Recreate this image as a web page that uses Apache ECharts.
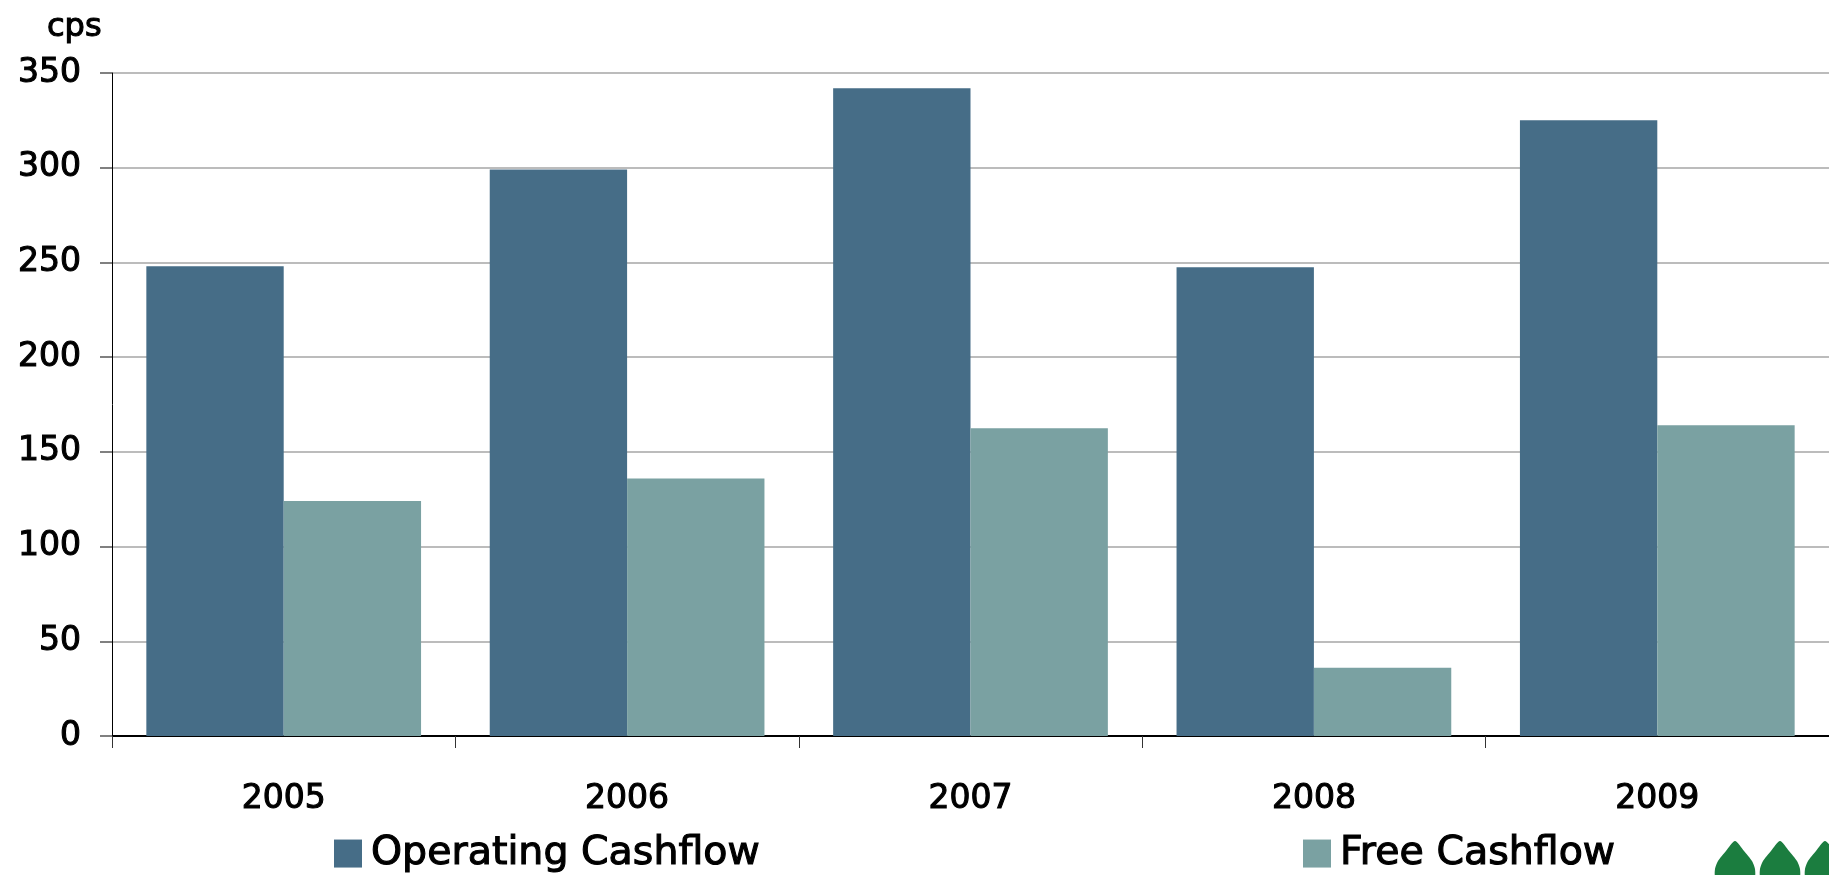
<!DOCTYPE html>
<html>
<head>
<meta charset="utf-8">
<script src="https://cdn.jsdelivr.net/npm/echarts@6/dist/echarts.min.js"></script>
<style>
  html, body { margin: 0; padding: 0; background: #ffffff; }
  #chart { width: 1829px; height: 875px; }
</style>
</head>
<body>
<div id="chart"></div>
<script>
// Cashflow per share, cents
const years = ['2005', '2006', '2007', '2008', '2009'];
const operatingCashflow = [248, 299, 342, 247.5, 325];
const freeCashflow = [124, 136, 162.5, 36, 164];
const yTicks = { min: 0, max: 350, step: 50 };
const unitLabel = 'cps';

const FONT = '"DejaVu Sans", Verdana, sans-serif';
const OP_COLOR = '#466d87';
const FREE_COLOR = '#7aa1a2';
const LOGO_GREEN = '#1b7d3f';

// slightly heavier glyphs for all chart text
const heavy = { textBorderColor: '#000', textBorderWidth: 1.1 };

// Corner logo: three green drops
function drop(cx) {
  return {
    type: 'polygon',
    shape: {
      points: [
        [cx, 841], [cx + 9, 851], [cx + 17, 861], [cx + 20, 869],
        [cx + 19, 878], [cx - 19, 878], [cx - 20, 869], [cx - 17, 861], [cx - 9, 851]
      ],
      smooth: 0.25
    },
    style: { fill: LOGO_GREEN },
    silent: true
  };
}

const chart = echarts.init(document.getElementById('chart'), null, { renderer: 'canvas' });

chart.setOption({
  animation: false,
  backgroundColor: '#ffffff',
  title: {
    text: unitLabel,
    left: 42,
    top: 7,
    textStyle: Object.assign({ fontFamily: FONT, fontSize: 32, fontWeight: 'normal', color: '#000' }, heavy)
  },
  grid: { left: 112, right: -8, top: 73, bottom: 139, containLabel: false },
  legend: [
    {
      data: ['Operating Cashflow'],
      left: 334, top: 833, padding: 0,
      itemWidth: 28, itemHeight: 28, itemGap: 0,
      icon: 'rect',
      textStyle: Object.assign({ fontFamily: FONT, fontSize: 39.5, color: '#000', padding: [0, 0, 0, 4] }, heavy)
    },
    {
      data: ['Free Cashflow'],
      left: 1303, top: 833, padding: 0,
      itemWidth: 28, itemHeight: 28, itemGap: 0,
      icon: 'rect',
      textStyle: Object.assign({ fontFamily: FONT, fontSize: 39.5, color: '#000', padding: [0, 0, 0, 4] }, heavy)
    }
  ],
  xAxis: {
    type: 'category',
    data: years,
    axisLine: { lineStyle: { color: '#000', width: 2 } },
    axisTick: { show: true, length: 12, lineStyle: { color: '#333', width: 1 } },
    axisLabel: Object.assign({ fontFamily: FONT, fontSize: 33, color: '#000', margin: 47 }, heavy)
  },
  yAxis: {
    type: 'value',
    min: yTicks.min,
    max: yTicks.max,
    interval: yTicks.step,
    axisLine: { show: true, lineStyle: { color: '#000', width: 1 } },
    axisTick: { show: true, length: 12, lineStyle: { color: '#808080', width: 2 } },
    axisLabel: Object.assign({ fontFamily: FONT, fontSize: 33, color: '#000', margin: 31 }, heavy),
    splitLine: { lineStyle: { color: '#a6a6a6', width: 1.5 } }
  },
  series: [
    {
      name: 'Operating Cashflow',
      type: 'bar',
      data: operatingCashflow,
      barGap: '0%',
      barCategoryGap: '20%',
      itemStyle: { color: OP_COLOR }
    },
    {
      name: 'Free Cashflow',
      type: 'bar',
      data: freeCashflow,
      barGap: '0%',
      barCategoryGap: '20%',
      itemStyle: { color: FREE_COLOR }
    }
  ],
  graphic: [drop(1735), drop(1780), drop(1825)]
});
</script>
</body>
</html>
